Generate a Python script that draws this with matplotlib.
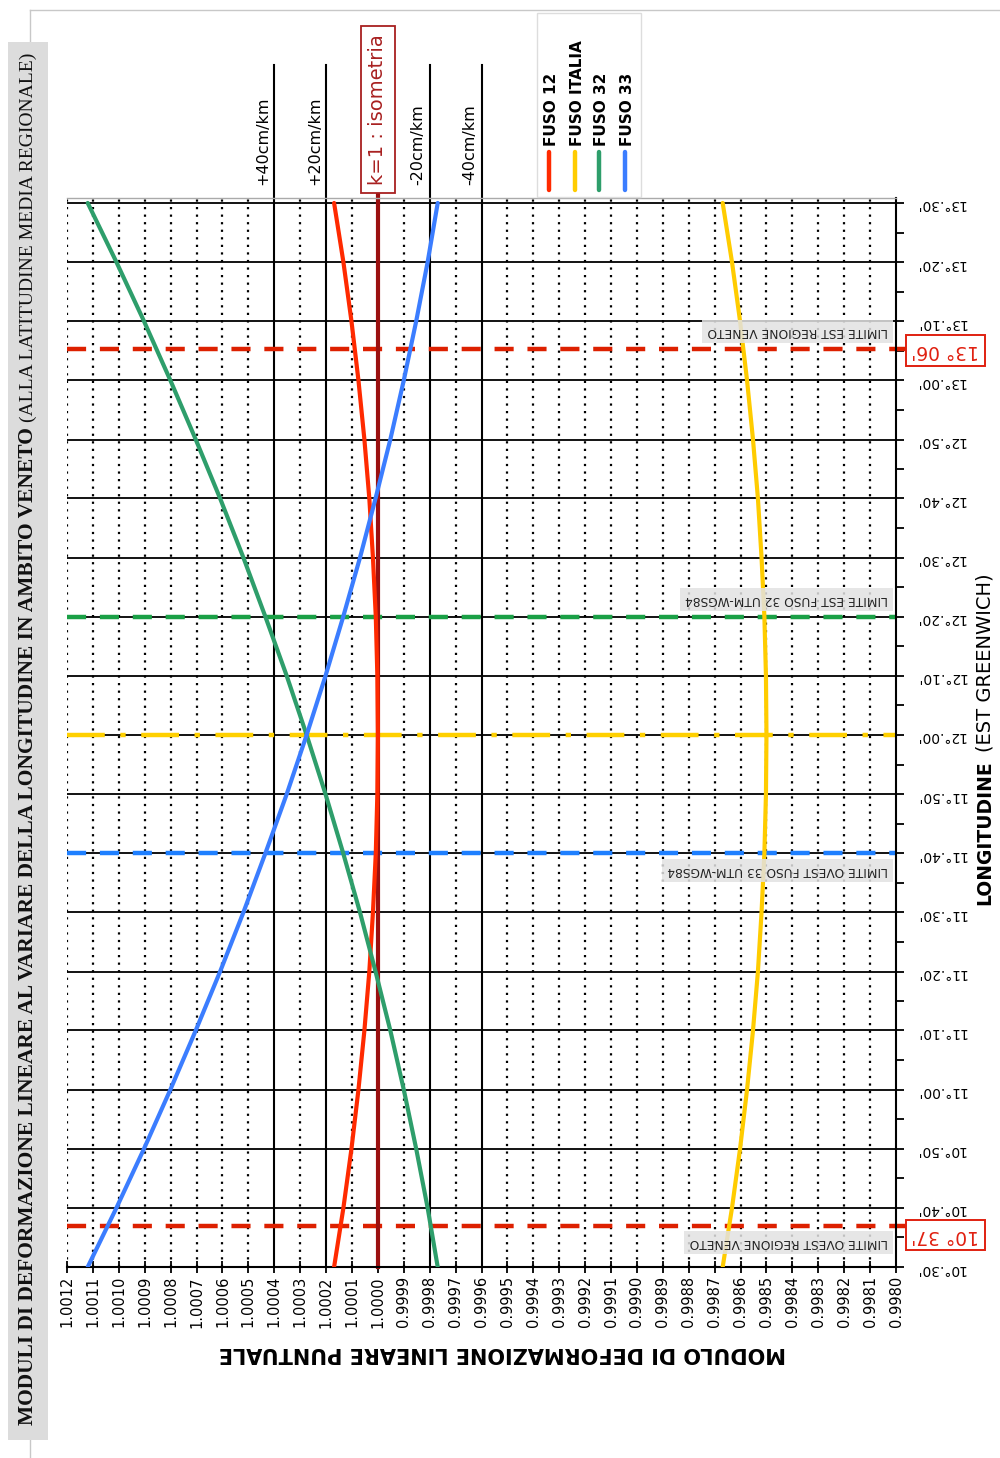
"""Moduli di deformazione lineare vs longitudine (Veneto) - rotated layout."""
import matplotlib
import matplotlib.pyplot as plt
import numpy as np
from matplotlib.lines import Line2D
from matplotlib.patches import Rectangle

matplotlib.use("Agg")

# longitude (decimal degrees) at every 10' step, 10°30' -> 13°30'
longitude = [10.500, 10.667, 10.833, 11.000, 11.167, 11.333, 11.500, 11.667, 11.833, 12.000,
             12.167, 12.333, 12.500, 12.667, 12.833, 13.000, 13.167, 13.333, 13.500]
lon_labels = ["10°.30'", "10°.40'", "10°.50'", "11°.00'", "11°.10'", "11°.20'", "11°.30'",
              "11°.40'", "11°.50'", "12°.00'", "12°.10'", "12°.20'", "12°.30'", "12°.40'",
              "12°.50'", "13°.00'", "13°.10'", "13°.20'", "13°.30'"]

# scale factor
fuso_12 = [1.000169, 1.000133, 1.000102, 1.000075, 1.000052, 1.000033, 1.000019, 1.000008,
           1.000002, 1.000000, 1.000002, 1.000008, 1.000019, 1.000033, 1.000052, 1.000075,
           1.000102, 1.000133, 1.000169]
fuso_italia = [0.998669, 0.998633, 0.998602, 0.998575, 0.998552, 0.998533, 0.998519, 0.998508,
               0.998502, 0.998500, 0.998502, 0.998508, 0.998519, 0.998533, 0.998552, 0.998575,
               0.998602, 0.998633, 0.998669]
fuso_32 = [0.999769, 0.999808, 0.999852, 0.999900, 0.999952, 1.000009, 1.000069, 1.000134,
           1.000202, 1.000275, 1.000352, 1.000434, 1.000519, 1.000609, 1.000703, 1.000801,
           1.000903, 1.001009, 1.001120]
fuso_33 = [1.001120, 1.001009, 1.000903, 1.000801, 1.000703, 1.000609, 1.000519, 1.000434,
           1.000352, 1.000275, 1.000202, 1.000134, 1.000069, 1.000009, 0.999952, 0.999900,
           0.999852, 0.999808, 0.999769]

series_names = ["FUSO 12", "FUSO ITALIA", "FUSO 32", "FUSO 33"]
series_colors = ["#ff2a00", "#ffcc00", "#2e9e6b", "#3b7dff"]

cm_values = [1.0004, 1.0002, 0.9998, 0.9996]
cm_labels = ["+40cm/km", "+20cm/km", "-20cm/km", "-40cm/km"]

veneto_ovest, veneto_ovest_lbl = 10.617, "10° 37'"
veneto_est, veneto_est_lbl = 13.088, "13° 06'"
fuso32_est = 12.333
fuso33_ovest = 11.667
italia_cm = 12.000

W, H = 1000, 1458


def fx(px):
    return px / W


def fy(py):
    return 1 - py / H


fig = plt.figure(figsize=(10, 14.58), dpi=100)

# outer thin frame and grey title band (kept under everything else)
fig.add_artist(Line2D([fx(30), 1.0], [fy(10), fy(10)], color="#c8c8c8", lw=1, zorder=-2))
fig.add_artist(Line2D([fx(30), fx(30)], [fy(10), 0.0], color="#c8c8c8", lw=1, zorder=-2))
fig.add_artist(Rectangle((fx(8), fy(1440)), fx(40), (1440 - 42) / H,
                         facecolor="#dcdcdc", edgecolor="none", zorder=-1))

ax = fig.add_axes([fx(67), fy(1267), fx(829), (1267 - 198) / H])
ax.set_xlim(1.0012, 0.9980)
ax.set_ylim(10.5, 13.514)

mod_ticks = np.round(np.arange(0.9980, 1.00121, 0.0001), 4)

# grid
for v in mod_ticks:
    if v in cm_values or v == 1.0 or v == 0.998:
        continue
    ax.axvline(v, color="black", lw=1.6, ls=(0, (1, 2.4)), zorder=1)
for lon in longitude:
    ax.axhline(lon, color="black", lw=1.3, zorder=1)
for v in cm_values:
    ax.axvline(v, ymin=0, ymax=(1267 - 65) / (1267 - 198), color="black", lw=1.5,
               zorder=1.5, clip_on=False)

# isometria
ax.axvline(1.0, ymin=0, ymax=1.01, color="#9b1010", lw=3, zorder=2.5, clip_on=False)

# reference longitude lines
ax.axhline(veneto_ovest, xmax=1.012, color="#dd2000", lw=3.2, dashes=(4.3, 3.1),
           zorder=2, clip_on=False)
ax.axhline(veneto_est, xmax=1.012, color="#dd2000", lw=3.2, dashes=(4.3, 3.1),
           zorder=2, clip_on=False)
ax.axhline(fuso32_est, color="#1aa046", lw=3.2, dashes=(4.3, 3.1), zorder=2)
ax.axhline(fuso33_ovest, color="#1e7fff", lw=3.2, dashes=(4.3, 3.1), zorder=2)
ax.axhline(italia_cm, color="#ffd000", lw=3.2, dashes=(8.5, 3.5, 1.2, 3.5), zorder=2)

# curves
for vals, c in zip([fuso_12, fuso_italia, fuso_32, fuso_33], series_colors):
    ax.plot(vals, longitude, color=c, lw=3, solid_capstyle="round", zorder=3)

# spines / ticks
ax.spines["left"].set_visible(False)
ax.spines["top"].set_color("#aaaaaa")
ax.spines["top"].set_linewidth(1)
ax.spines["right"].set_linewidth(1.5)
ax.spines["bottom"].set_linewidth(1.5)

ax.set_xticks(mod_ticks)
ax.set_xticklabels([f"{v:.4f}" for v in mod_ticks])
ax.tick_params(axis="x", direction="inout", length=9, width=1.3, labelsize=10.5,
               labelrotation=90, pad=2)

ax.yaxis.tick_right()
ax.set_yticks(longitude)
ax.set_yticklabels(lon_labels)
ax.set_yticks([lon + 1 / 12 for lon in longitude[:-1]], minor=True)
ax.tick_params(axis="y", which="both", direction="out", length=6, width=1.3,
               labelsize=10, labelrotation=180, pad=8)

# grey annotation boxes for the limits
box_kw = dict(boxstyle="square,pad=0.4", fc="#e2e2e2", ec="none", alpha=0.85)
limit_notes = [
    (veneto_est, "LIMITE EST REGIONE VENETO", 12.5),
    (fuso32_est, "LIMITE EST FUSO 32 UTM-WGS84", 12.5),
    (fuso33_ovest, "LIMITE OVEST FUSO 33 UTM-WGS84", -12.5),
    (veneto_ovest, "LIMITE OVEST REGIONE VENETO", -12),
]
for lon, txt, dy in limit_notes:
    ax.annotate(txt, xy=(1, lon), xycoords=ax.get_yaxis_transform(), xytext=(-6, dy),
                textcoords="offset points", rotation=180, ha="right", va="center",
                fontsize=8.8, color="#222222", bbox=box_kw, zorder=4)

# red longitude boxes
for lon, txt, dy in [(veneto_est, veneto_est_lbl, -1), (veneto_ovest, veneto_ovest_lbl, -7)]:
    ax.annotate(txt, xy=(1, lon), xycoords=ax.get_yaxis_transform(), xytext=(11, dy),
                textcoords="offset points", rotation=180, ha="left", va="center",
                fontsize=13.5, color="#e02010", annotation_clip=False,
                bbox=dict(boxstyle="square,pad=0.3", fc="white", ec="#e02010", lw=1.4))

# labels above the plot
for v, txt in zip(cm_values, cm_labels):
    ax.annotate(txt, xy=(v, 1.0), xycoords=ax.get_xaxis_transform(), xytext=(-3, 9.5),
                textcoords="offset points", rotation=90, ha="right", va="bottom",
                fontsize=11.5, annotation_clip=False)
ax.annotate("k=1 : isometria", xy=(1.0, 1.0), xycoords=ax.get_xaxis_transform(),
            xytext=(0, 9.5), textcoords="offset points", rotation=90, ha="center",
            va="bottom", fontsize=14, color="#a82020", annotation_clip=False, zorder=5,
            bbox=dict(boxstyle="square,pad=0.4", fc="white", ec="#a82020", lw=1.3))

# rotated legend
fig.add_artist(Rectangle((fx(537), fy(197)), fx(104), (197 - 13) / H,
                         facecolor="white", edgecolor="#dddddd", lw=1))
for i, (name, c) in enumerate(zip(series_names, series_colors)):
    xc = [549, 575, 599, 625][i]
    fig.add_artist(Line2D([fx(xc), fx(xc)], [fy(190), fy(152)], color=c, lw=3.2,
                          solid_capstyle="round"))
    fig.text(fx(xc + 2), fy(146), name, rotation=90, ha="center", va="bottom",
             fontsize=11, weight="bold")

# axis titles
t_lon = fig.text(fx(985), fy(905), "LONGITUDINE", rotation=90, ha="center", va="bottom",
                 fontsize=13.5, weight="bold")
ax.annotate("(EST GREENWICH)", xy=(0.5, 1.0), xycoords=t_lon, xytext=(0, 6),
            textcoords="offset points", rotation=90, ha="center", va="bottom",
            fontsize=14, annotation_clip=False)
fig.text(fx(502), fy(1353), "MODULO DI DEFORMAZIONE LINEARE PUNTUALE", rotation=180,
         ha="center", va="center", fontsize=15, weight="bold")

t_title = fig.text(fx(28), fy(1425),
                   "MODULI DI DEFORMAZIONE LINEARE AL VARIARE DELLA LONGITUDINE IN AMBITO VENETO",
                   rotation=90, ha="center", va="bottom", family="Liberation Serif",
                   weight="bold", fontsize=15.5, color="#111111")
ax.annotate("(ALLA LATITUDINE MEDIA REGIONALE)", xy=(0.5, 1.0), xycoords=t_title,
            xytext=(0, 4), textcoords="offset points", rotation=90, ha="center",
            va="bottom", family="Liberation Serif", fontsize=14, color="#111111",
            annotation_clip=False)

fig.savefig("out.png", dpi=100)
